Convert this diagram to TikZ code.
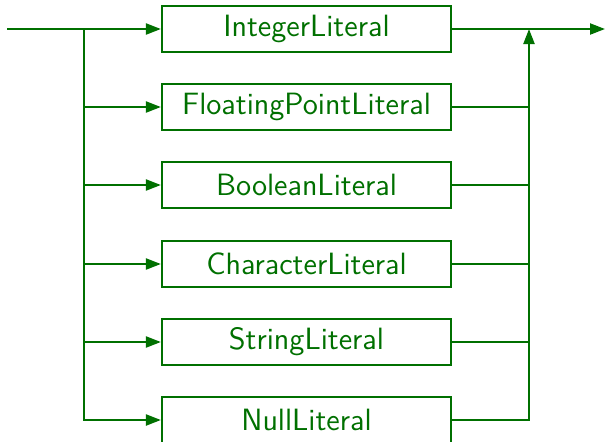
\documentclass[tikz,border=0pt]{standalone}
\usepackage{tikz}
\usetikzlibrary{arrows.meta}
\definecolor{rrgreen}{RGB}{0,112,0}
\tikzset{
litbox/.style={draw,minimum width=144.5pt,minimum height=23pt,inner sep=0pt,font=\fontsize{15.4}{18}\selectfont\sffamily},
flow/.style={-{Triangle[length=7.5pt,width=5.5pt]}}
}

\begin{document}
\begin{tikzpicture}[x=0.5pt,y=-0.5pt,color=rrgreen,line width=1.1pt]
\useasboundingbox (0,0) rectangle (606,441);
\foreach \name/\y in {Integer/29,FloatingPoint/107,Boolean/185,Character/264,String/342,Null/420}{
\node[litbox] (\name) at (306.5,\y) {\name Literal};
\coordinate (l\name) at (84,\y);
\coordinate (r\name) at (529,\y);
}
\coordinate (start) at (7,29);
\coordinate (stop) at (605,29);
\draw[flow] (start) -- (Integer); %in
\draw[flow] (Integer) -- (stop); %out
\draw[flow] (lInteger) |- (Null); %left rail
\foreach \name in {FloatingPoint,Boolean,Character,String}{
\draw[flow] (l\name) -- (\name);
\draw (\name) -- (r\name);
}
\draw[flow] (Null) -| (rInteger); %right rail
\end{tikzpicture}
\end{document}
